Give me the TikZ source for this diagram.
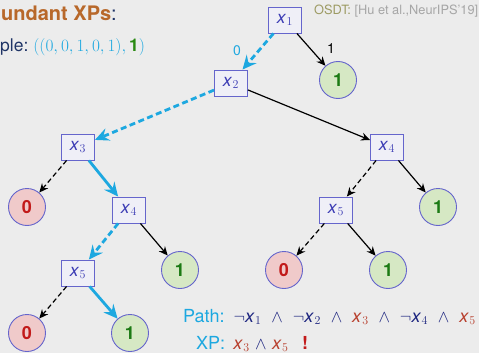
\documentclass[tikz,border=0pt]{standalone}
\usepackage{fontspec}
\setmainfont{TeX Gyre Heros}
\usetikzlibrary{arrows.meta}

\definecolor{bgc}{HTML}{ECECEC}
\definecolor{titlec}{HTML}{B8682A}
\definecolor{darkc}{HTML}{1F3466}
\definecolor{cyanc}{HTML}{1DA8E0}
\definecolor{greenc}{HTML}{2A8A12}
\definecolor{boxline}{HTML}{6565CC}
\definecolor{boxfill}{HTML}{EFEFF7}
\definecolor{varc}{HTML}{3D3DB5}
\definecolor{navyc}{HTML}{1E2680}
\definecolor{redc}{HTML}{B8402E}
\definecolor{zerofill}{HTML}{F0CACA}
\definecolor{zerotext}{HTML}{C21A1A}
\definecolor{onefill}{HTML}{D6E8C4}
\definecolor{onetext}{HTML}{1C7A14}
\definecolor{olivec}{HTML}{9C9A62}
\definecolor{greyc}{HTML}{A6A6A6}

% sans italic variable with a math subscript
\newcommand{\xvar}[1]{\textit{x}\kern0.5pt$_{#1}$}
% conjunction with wide spacing (path line) and narrow spacing (XP line)
\newcommand{\conj}{\hspace{0.55em}$\wedge$\hspace{0.55em}}
\newcommand{\conjn}{\hspace{0.3em}$\wedge$\hspace{0.3em}}

\tikzset{
  varbox/.style={draw=boxline, fill=boxfill, line width=0.9pt,
    minimum width=33pt, minimum height=26pt, inner sep=0pt,
    text=varc, font=\fontsize{17.5}{20}\selectfont},
  leafzero/.style={circle, draw=boxline, fill=zerofill, line width=0.9pt,
    minimum size=37pt, inner sep=0pt, text=zerotext,
    font=\fontsize{18}{20}\selectfont\bfseries},
  leafone/.style={circle, draw=boxline, fill=onefill, line width=0.9pt,
    minimum size=37pt, inner sep=0pt, text=onetext,
    font=\fontsize{18}{20}\selectfont\bfseries},
  solidedge/.style={draw=black, line width=1.2pt,
    -{Stealth[length=9pt, width=8pt, inset=3pt]}},
  dashedge/.style={draw=black, line width=1.2pt, dash pattern=on 5pt off 3pt,
    -{Stealth[length=9pt, width=8pt, inset=3pt]}},
  pathsolid/.style={draw=cyanc, line width=2.8pt,
    -{Stealth[length=14pt, width=13pt, inset=5pt]}},
  pathdash/.style={draw=cyanc, line width=2.8pt, dash pattern=on 6pt off 3.5pt,
    -{Stealth[length=14pt, width=13pt, inset=5pt]}},
}

\begin{document}
\begin{tikzpicture}[x=1pt, y=-1pt]
\fill[bgc] (0,0) rectangle (479,353);
\useasboundingbox (0,0) rectangle (479,353);

% heading lines
\node[anchor=base west, inner sep=0pt, font=\fontsize{20}{24}\selectfont] (title) at (1,21)
  {\textcolor{titlec}{\bfseries undant XPs}\textcolor{darkc}{:}};
\node[anchor=base west, inner sep=0pt, font=\fontsize{17.5}{20}\selectfont] (sample) at (0,52)
  {\textcolor{darkc}{ple:}\ \textcolor{cyanc}{$((0,0,1,0,1),\,$\textcolor{greenc}{\bfseries 1}$)$}};
\node[anchor=base west, inner sep=0pt, font=\fontsize{12.8}{14}\selectfont] (ref) at (314,15)
  {\textcolor{olivec}{OSDT:} \textcolor{greyc}{[Hu et al.,NeurIPS'19]}};

% decision tree
\node[varbox] (x1) at (285,20) {\xvar{1}};
\node[leafone] (l1) at (338,80) {1};
\node[varbox] (x2) at (231,83) {\xvar{2}};
\node[varbox] (x3) at (78,147) {\xvar{3}};
\node[varbox] (x4r) at (387,147) {\xvar{4}};
\node[leafzero] (l2) at (27,207) {0};
\node[varbox] (x4l) at (129,210) {\xvar{4}};
\node[varbox] (x5r) at (336,210) {\xvar{5}};
\node[leafone] (l3) at (438,207) {1};
\node[varbox] (x5l) at (78,273) {\xvar{5}};
\node[leafone] (l4) at (180,270) {1};
\node[leafzero] (l5) at (284,270) {0};
\node[leafone] (l6) at (388,270) {1};
\node[leafzero] (l7) at (27,333) {0};
\node[leafone] (l8) at (130,333) {1};

\draw[pathdash] (x1) -- (x2);
\draw[solidedge] (x1) -- (l1);
\draw[pathdash] (x2) -- (x3);
\draw[solidedge] (x2) -- (x4r);
\draw[dashedge] (x3) -- (l2);
\draw[pathsolid] (x3) -- (x4l);
\draw[pathdash] (x4l) -- (x5l);
\draw[solidedge] (x4l) -- (l4);
\draw[dashedge] (x5l) -- (l7);
\draw[pathsolid] (x5l) -- (l8);
\draw[dashedge] (x4r) -- (x5r);
\draw[solidedge] (x4r) -- (l3);
\draw[dashedge] (x5r) -- (l5);
\draw[solidedge] (x5r) -- (l6);

\node[text=cyanc, font=\fontsize{14}{16}\selectfont, inner sep=0pt] (lab0) at (237,51) {0};
\node[text=black, font=\fontsize{14}{16}\selectfont, inner sep=0pt] (lab1) at (331,49) {1};

% path and explanation
\node[anchor=base west, inner sep=0pt, font=\fontsize{18}{20}\selectfont] (path) at (183,322)
  {\textcolor{cyanc}{Path:}\hspace{0.5em}\textcolor{navyc}{$\neg$\xvar{1}\conj$\neg$\xvar{2}\conj}%
   \textcolor{redc}{\xvar{3}}\textcolor{navyc}{\conj$\neg$\xvar{4}\conj}%
   \textcolor{redc}{\xvar{5}}};
\node[anchor=base west, inner sep=0pt, font=\fontsize{18}{20}\selectfont] (xp) at (196,349)
  {\textcolor{cyanc}{XP:}\hspace{0.45em}\textcolor{redc}{\xvar{3}}\textcolor{navyc}{\conjn}%
   \textcolor{redc}{\xvar{5}}\hspace{0.75em}\textcolor{zerotext}{\bfseries !}};
\end{tikzpicture}
\end{document}
